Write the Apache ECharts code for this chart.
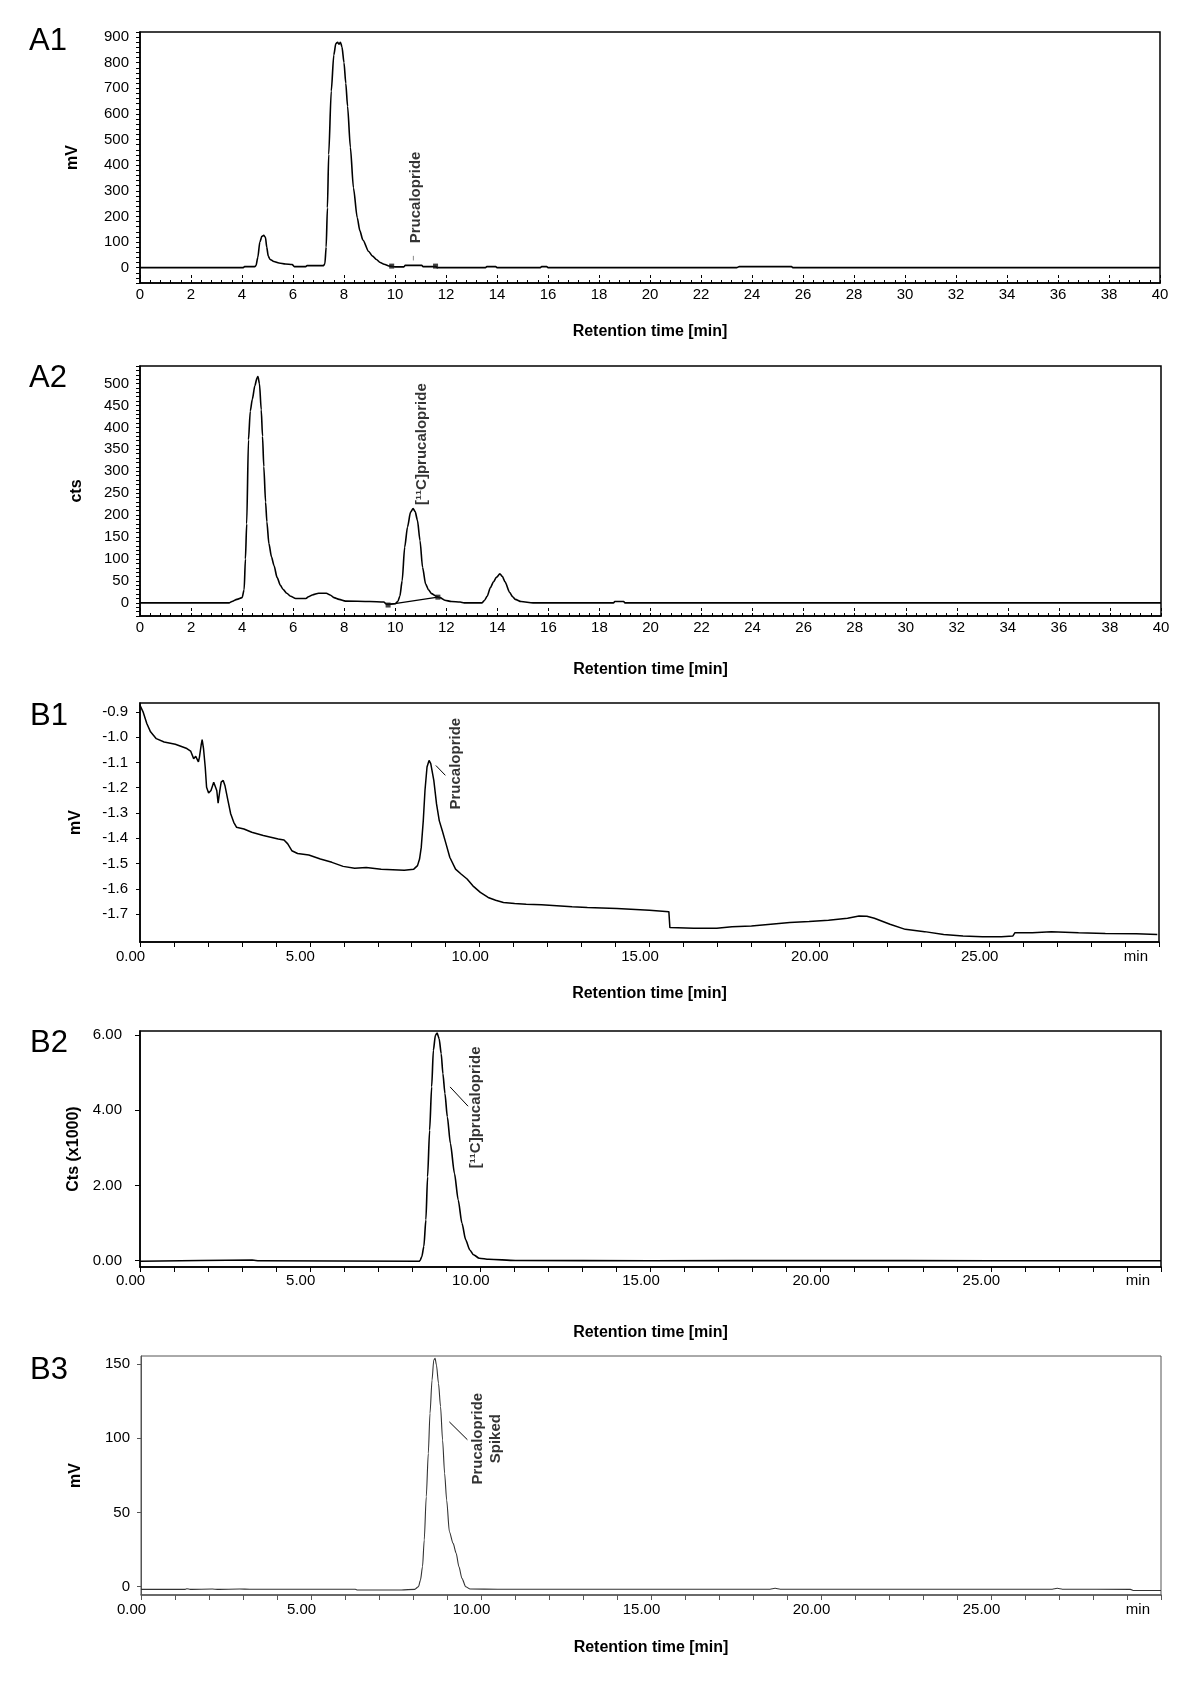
<!DOCTYPE html>
<html><head><meta charset="utf-8">
<script src="https://cdn.jsdelivr.net/npm/echarts@6/dist/echarts.min.js"></script>
<style>html,body{margin:0;padding:0;background:#fff}#c{width:1200px;height:1682px}</style>
</head><body><div id="c"></div>
<script>
// ---------- DATA ----------
// A1: UV chromatogram, mV vs retention time (min)
const A1_TIME = [0,4.05,4.1,4.5,4.55,4.62,4.7,4.78,4.85,4.92,4.97,5.03,5.1,5.25,5.45,5.7,5.97,6.05,6.5,6.55,7.2,7.25,7.3,7.35,7.4,7.5,7.6,7.68,7.75,7.8,7.86,7.92,8.0,8.07,8.14,8.25,8.37,8.52,8.62,8.74,8.97,9.12,9.27,9.42,9.57,9.8,10.0,10.35,10.4,11.05,11.1,11.6,11.65,13.55,13.6,13.95,14.0,15.7,15.75,15.95,16.0,23.4,23.5,25.55,25.6,40];
const A1_MV   = [0,0,4,4,8,40,100,122,126,118,80,45,32,24,18,14,12,4,4,8,8,15,80,234,442,689,830,875,880,872,880,862,800,720,630,470,312,195,145,108,63,45,32,20,13,6,3,3,9,9,4,4,0,0,4,4,0,0,4,4,0,0,4,4,0,0];
const A1_MARK_T = [9.87, 11.59];
const A1_MARK_V = [6, 6];

// A2: radio chromatogram, cts vs retention time (min)
const A2_TIME = [0,3.5,3.6,3.8,4.0,4.08,4.13,4.18,4.25,4.32,4.4,4.5,4.58,4.62,4.68,4.75,4.8,4.85,4.92,4.97,5.05,5.15,5.25,5.37,5.5,5.6,5.75,5.9,6.1,6.5,6.6,6.75,7.0,7.3,7.45,7.6,7.8,8.05,9.0,9.55,9.65,10.0,10.1,10.18,10.27,10.37,10.48,10.6,10.7,10.78,10.87,10.97,11.07,11.19,11.3,11.42,11.6,11.75,11.94,12.2,12.54,12.7,13.4,13.5,13.6,13.73,13.85,13.96,14.1,14.2,14.3,14.48,14.6,14.7,14.93,15.4,18.55,18.6,18.95,19.0,40];
const A2_CTS  = [0,0,3,8,12,30,100,180,372,437,464,495,512,516,500,440,380,311,230,185,135,105,85,58,40,31,22,15,10,10,14,18,22,22,18,12,8,4,3,2,-3,-2,3,15,50,127,173,207,215,208,188,142,81,43,30,21,15,12,6,3,2,0,0,6,15,35,48,58,66,60,48,24,14,8,3,0,0,3,3,0,0];
const A2_MARK_T = [9.72, 11.67];
const A2_MARK_V = [-5, 13];

// B1: UV chromatogram, mV vs retention time (min)
const B1_TIME = [0,0.09,0.2,0.31,0.48,0.71,1.04,1.38,1.49,1.58,1.64,1.72,1.75,1.8,1.83,1.87,1.92,1.96,2.02,2.09,2.17,2.22,2.26,2.3,2.35,2.39,2.45,2.5,2.59,2.67,2.76,2.84,3.06,3.29,3.63,3.85,4.07,4.24,4.35,4.47,4.64,4.97,5.31,5.65,5.98,6.32,6.66,7.1,7.78,8.06,8.17,8.23,8.28,8.34,8.39,8.45,8.51,8.56,8.65,8.73,8.81,8.9,9.01,9.12,9.29,9.46,9.63,9.8,10.02,10.25,10.47,10.7,11.03,11.37,11.82,12.27,12.72,13.17,13.6,14.04,15.0,15.57,15.6,16.3,16.98,17.43,18.0,18.57,19.13,19.7,20.27,20.83,21.17,21.4,21.62,22.08,22.53,23.1,23.66,24.23,24.8,25.36,25.7,25.76,26.27,26.83,27.63,28.42,29.33,29.95];
const B1_MV   = [-0.874,-0.9,-0.946,-0.979,-1.006,-1.019,-1.028,-1.045,-1.055,-1.085,-1.076,-1.098,-1.079,-1.032,-1.01,-1.045,-1.118,-1.198,-1.221,-1.211,-1.178,-1.171,-1.211,-1.261,-1.211,-1.178,-1.171,-1.191,-1.251,-1.303,-1.337,-1.356,-1.363,-1.376,-1.389,-1.396,-1.403,-1.407,-1.422,-1.449,-1.46,-1.466,-1.482,-1.495,-1.511,-1.518,-1.515,-1.522,-1.526,-1.522,-1.508,-1.482,-1.436,-1.33,-1.211,-1.118,-1.092,-1.105,-1.171,-1.264,-1.33,-1.37,-1.422,-1.475,-1.522,-1.542,-1.561,-1.588,-1.614,-1.634,-1.645,-1.654,-1.658,-1.661,-1.663,-1.667,-1.671,-1.674,-1.676,-1.678,-1.684,-1.69,-1.753,-1.756,-1.756,-1.75,-1.747,-1.74,-1.733,-1.729,-1.724,-1.716,-1.707,-1.708,-1.716,-1.74,-1.76,-1.769,-1.78,-1.786,-1.789,-1.789,-1.786,-1.773,-1.773,-1.769,-1.773,-1.776,-1.777,-1.78];

// B2: radio chromatogram, Cts (x1000)
const B2_TIME = [0,3.3,3.5,8.2,8.23,8.28,8.34,8.4,8.45,8.51,8.57,8.62,8.68,8.73,8.79,8.85,8.9,8.96,9.03,9.12,9.24,9.35,9.46,9.57,9.69,9.8,9.97,10.25,11.03,15,20,25,30];
const B2_CTS  = [-0.02,0.01,-0.01,-0.02,0.0,0.1,0.37,1.08,2.23,3.47,4.63,5.6,6.0,6.06,5.91,5.51,4.98,4.45,3.83,3.12,2.32,1.61,0.99,0.55,0.28,0.15,0.06,0.03,0.0,-0.01,0.0,-0.01,-0.01];

// B3: UV chromatogram (spiked), mV
const B3_TIME = [0,1.3,1.35,1.45,2.1,2.25,2.9,3.2,6.3,6.35,7.66,8.05,8.16,8.22,8.28,8.33,8.39,8.45,8.5,8.56,8.61,8.65,8.69,8.75,8.81,8.87,8.93,8.99,9.07,9.18,9.27,9.35,9.44,9.55,9.68,10.5,14,18.5,18.65,18.8,26.8,26.95,27.1,29.1,29.2,30];
const B3_MV   = [-1.8,-1.8,-1.4,-1.8,-1.6,-1.8,-1.6,-1.7,-1.7,-2.2,-2.2,-1.8,0,4.5,13.5,31.4,60.6,89.8,116.8,139.2,152.7,153.8,149.3,137,121.3,98.8,76.4,58.4,37,29.2,22.5,13.5,5.6,0,-1.6,-1.7,-1.7,-1.7,-1.1,-1.7,-1.7,-1.1,-1.7,-1.8,-2.6,-2.6];

// Tick labels
const A_X_TICKS_STEP = 2;
const A1_Y_LABEL_STEP = 100;
const A2_Y_LABEL_STEP = 50;
const B1_Y_LABELS = [-1.7,-1.6,-1.5,-1.4,-1.3,-1.2,-1.1,-1.0,-0.9];
const B2_Y_LABELS = [0,2,4,6];
const B3_Y_LABELS = [0,50,100,150];
const B_X_LABELS = [0,5,10,15,20,25];
const B_X_TICKS = [0,1,2,3,4,5,6,7,8,9,10,11,12,13,14,15,16,17,18,19,20,21,22,23,24,25,26,27,28,29,30];

// Annotations: [time, value] of text centre, and pointer segments
const A1_ANN = {t:10.8, v:274, text:'Prucalopride'};
const A1_PTR_T = [10.72, 10.72], A1_PTR_V = [28, 46];
const A2_ANN = {t:11.04, v:362, text:'[\u00b9\u00b9C]prucalopride'};
const A2_BASE_T = [9.72, 11.67], A2_BASE_V = [-4, 13];
const B1_ANN = {t:9.29, v:-1.105, text:'Prucalopride'};
const B1_PTR_T = [8.71, 8.99], B1_PTR_V = [-1.112, -1.151];
const B2_ANN = {t:9.88, v:4.08, text:'[\u00b9\u00b9C]prucalopride'};
const B2_PTR_T = [9.11, 9.64], B2_PTR_V = [4.625, 4.11];
const B3_ANN = {t:10.16, v:99.7, text:'Prucalopride\nSpiked'};
const B3_PTR_T = [9.07, 9.6], B3_PTR_V = [111, 99];

// ---------- CHART ----------
const F = 'Liberation Sans, Arial, Helvetica, sans-serif';
const zip = (a, b) => a.map((x, i) => [x, b[i]]);

const grids = [
  {left:140, top:32, width:1020, height:251},
  {left:140, top:366, width:1021, height:250},
  {left:140, top:703, width:1019, height:239},
  {left:140, top:1031, width:1021, height:236},
  {left:141, top:1356, width:1020, height:239}
].map((g, i) => Object.assign({show:true, borderColor: i === 4 ? '#555' : '#000', borderWidth: i === 4 ? 1 : 1.5, backgroundColor:'transparent'}, g));

function aX(gi, gap) {
  return {
    type:'value', gridIndex:gi, min:0, max:40, interval:A_X_TICKS_STEP,
    name:'Retention time [min]', nameLocation:'middle', nameGap:gap,
    nameTextStyle:{fontWeight:'bold', fontSize:16, color:'#000', fontFamily:F},
    axisLine:{show:true, onZero:false, lineStyle:{color:'#000', width:1.5}},
    axisTick:{show:true, inside:true, length:8, lineStyle:{color:'#000', width:1, type:[3,2]}},
    minorTick:{show:true, splitNumber:5, length:3, lineStyle:{color:'#000', width:1}},
    axisLabel:{color:'#000', fontSize:15, margin:4, fontFamily:F},
    splitLine:{show:false}, minorSplitLine:{show:false}
  };
}
function bX(gi, gap, margin, col) {
  return {
    type:'value', gridIndex:gi, min:0, max:30,
    name:'Retention time [min]', nameLocation:'middle', nameGap:gap,
    nameTextStyle:{fontWeight:'bold', fontSize:16, color:'#000', fontFamily:F},
    axisLine:{show:true, onZero:false, lineStyle:{color:col, width:1.5}},
    axisTick:{show:true, inside:false, length:5, customValues:B_X_TICKS, lineStyle:{color:col, width:1}},
    axisLabel:{color:'#000', fontSize:15, margin:margin, fontFamily:F, padding:[0,19,0,0],
      customValues: B_X_LABELS.concat([29.6]),
      formatter: v => v > 29 ? 'min' : v.toFixed(2)},
    splitLine:{show:false}
  };
}
function yAx(gi, o) {
  return Object.assign({
    type:'value', gridIndex:gi, nameLocation:'middle',
    nameTextStyle:{fontWeight:'bold', fontSize:16, color:'#000', fontFamily:F},
    axisLine:{show:true, onZero:false, lineStyle:{color:'#000', width:1.5}},
    axisTick:{show:true, inside:false, length:4, lineStyle:{color:'#000', width:1}},
    splitLine:{show:false}
  }, o);
}

const lineS = (xi, data, color, width) => ({
  type:'line', xAxisIndex:xi, yAxisIndex:xi, data, symbol:'none', silent:true,
  lineStyle:{color, width}, smooth:0.25, smoothMonotone:'x', z:3
});
const segS = (xi, t, v, color, width) => ({
  type:'line', xAxisIndex:xi, yAxisIndex:xi, data:zip(t, v), symbol:'none', silent:true,
  lineStyle:{color, width}, z:3
});
const markS = (xi, t, v) => ({
  type:'scatter', xAxisIndex:xi, yAxisIndex:xi, data:zip(t, v), symbol:'rect', symbolSize:5,
  itemStyle:{color:'#111'}, silent:true, z:4
});
const annS = (xi, a) => ({
  type:'scatter', xAxisIndex:xi, yAxisIndex:xi, data:[[a.t, a.v]], symbolSize:1,
  itemStyle:{color:'rgba(0,0,0,0)'}, silent:true, z:5,
  label:{show:true, position:'inside', rotate:90, formatter:a.text, fontSize:15, fontWeight:'bold',
    color:'#000', fontFamily:F, lineHeight:18, align:'center'}
});

const option = {
  animation:false,
  backgroundColor:'#fff',
  textStyle:{fontFamily:F},
  grid:grids,
  xAxis:[ aX(0, 41), aX(1, 46), bX(2, 44, 7, '#000'), bX(3, 58, 6, '#000'), bX(4, 45, 7, '#555') ],
  yAxis:[
    yAx(0, {min:-60, max:920, interval:20, name:'mV', nameGap:59,
      axisLabel:{color:'#000', fontSize:15, margin:11, fontFamily:F, formatter:v => v % A1_Y_LABEL_STEP === 0 ? String(v) : ''}}),
    yAx(1, {min:-30, max:540, interval:10, name:'cts', nameGap:55,
      axisLabel:{color:'#000', fontSize:15, margin:11, fontFamily:F, formatter:v => v % A2_Y_LABEL_STEP === 0 ? String(v) : ''}}),
    yAx(2, {min:-1.81, max:-0.865, name:'mV', nameGap:56,
      axisTick:{show:true, length:4, customValues:B1_Y_LABELS, lineStyle:{color:'#000'}},
      axisLabel:{color:'#000', fontSize:15, margin:12, fontFamily:F, customValues:B1_Y_LABELS, formatter:v => v.toFixed(1)}}),
    yAx(3, {min:-0.175, max:6.115, name:'Cts (x1000)', nameGap:58,
      axisTick:{show:true, length:5, customValues:B2_Y_LABELS, lineStyle:{color:'#000'}},
      axisLabel:{color:'#000', fontSize:15, margin:18, fontFamily:F, customValues:B2_Y_LABELS, formatter:v => v.toFixed(2)}}),
    yAx(4, {min:-5.6, max:155.4, name:'mV', nameGap:57,
      axisLine:{show:true, onZero:false, lineStyle:{color:'#555', width:1}},
      axisTick:{show:true, length:4, customValues:B3_Y_LABELS, lineStyle:{color:'#555'}},
      axisLabel:{color:'#000', fontSize:15, margin:11, fontFamily:F, customValues:B3_Y_LABELS, formatter:v => String(v)}})
  ],
  series:[
    lineS(0, zip(A1_TIME, A1_MV), '#000', 1.6),
    markS(0, A1_MARK_T, A1_MARK_V),
    segS(0, A1_PTR_T, A1_PTR_V, '#888', 1),
    annS(0, A1_ANN),
    lineS(1, zip(A2_TIME, A2_CTS), '#000', 1.6),
    segS(1, A2_BASE_T, A2_BASE_V, '#000', 1.2),
    markS(1, A2_MARK_T, A2_MARK_V),
    annS(1, A2_ANN),
    Object.assign(lineS(2, zip(B1_TIME, B1_MV), '#000', 1.5), {smooth:false}),
    segS(2, B1_PTR_T, B1_PTR_V, '#000', 1),
    annS(2, B1_ANN),
    lineS(3, zip(B2_TIME, B2_CTS), '#000', 1.6),
    segS(3, B2_PTR_T, B2_PTR_V, '#000', 1),
    annS(3, B2_ANN),
    lineS(4, zip(B3_TIME, B3_MV), '#333', 1.1),
    segS(4, B3_PTR_T, B3_PTR_V, '#000', 1),
    annS(4, B3_ANN)
  ],
  graphic:[
    {type:'text', x:29, y:41, style:{text:'A1', fontSize:31, fontFamily:F, fill:'#000', verticalAlign:'middle'}},
    {type:'text', x:29, y:378, style:{text:'A2', fontSize:31, fontFamily:F, fill:'#000', verticalAlign:'middle'}},
    {type:'text', x:30, y:716, style:{text:'B1', fontSize:31, fontFamily:F, fill:'#000', verticalAlign:'middle'}},
    {type:'text', x:30, y:1043, style:{text:'B2', fontSize:31, fontFamily:F, fill:'#000', verticalAlign:'middle'}},
    {type:'text', x:30, y:1370, style:{text:'B3', fontSize:31, fontFamily:F, fill:'#000', verticalAlign:'middle'}}
  ]
};

const chart = echarts.init(document.getElementById('c'), null, {renderer:'canvas'});
chart.setOption(option);
</script>
</body></html>
